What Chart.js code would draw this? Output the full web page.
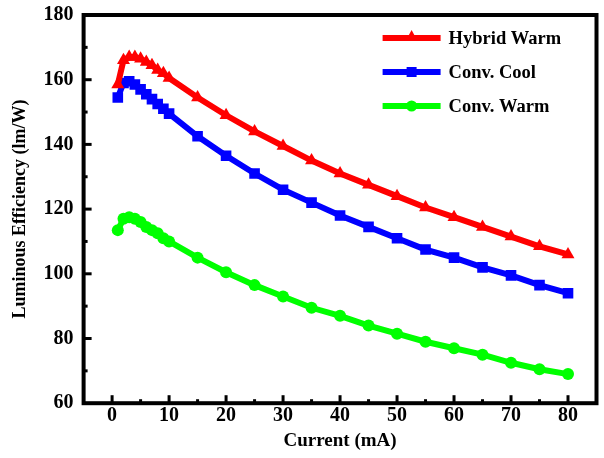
<!DOCTYPE html>
<html>
<head>
<meta charset="utf-8">
<script src="https://cdn.jsdelivr.net/npm/chart.js@4"></script>
<style>
  html, body { margin: 0; padding: 0; background: #fff; }
  #wrap { width: 604px; height: 458px; }
</style>
</head>
<body>
<div id="wrap"><canvas id="myChart" width="604" height="458"></canvas></div>
<script>
// currents (mA)
const current = [1, 2, 3, 4, 5, 6, 7, 8, 9, 10, 15, 20, 25, 30, 35, 40, 45, 50, 55, 60, 65, 70, 75, 80]
// luminous efficiency (lm/W)
const hybridWarm = [158.5, 166, 167, 167, 166.5, 165.5, 164.5, 163, 162, 160.5, 154.5, 149, 144, 139.5, 135, 131, 127.5, 124, 120.5, 117.5, 114.5, 111.5, 108.5, 106]
const convCool = [154.5, 159, 159.5, 158.5, 157, 155.5, 154, 152.5, 151, 149.5, 142.5, 136.5, 131, 126, 122, 118, 114.5, 111, 107.5, 105, 102, 99.5, 96.5, 94]
const convWarm = [113.5, 117, 117.5, 117, 116, 114.5, 113.5, 112.5, 111, 110, 105, 100.5, 96.5, 93, 89.5, 87, 84, 81.5, 79, 77, 75, 72.5, 70.5, 69]
const xTicks = [0, 10, 20, 30, 40, 50, 60, 70, 80]
const yTicks = [60, 80, 100, 120, 140, 160, 180]

const FONT = '"Liberation Serif", "Times New Roman", serif'

function toPoints(ys){
    return current.map((x, i) => ({ x, y: ys[i] }))
}

// frame, inward ticks and legend inside the plot
const framePlugin = {
    id: 'frame',
    afterDraw(chart){
        const { ctx, chartArea: a, scales } = chart
        ctx.save()
        ctx.strokeStyle = '#000'
        ctx.lineWidth = 4
        ctx.strokeRect(a.left, a.top, a.right - a.left, a.bottom - a.top)
        ctx.lineWidth = 3
        for(let v = 0; v <= 80; v += 5){
            const px = scales.x.getPixelForValue(v)
            const len = v % 10 === 0 ? 8 : 4
            ctx.beginPath()
            ctx.moveTo(px, a.bottom)
            ctx.lineTo(px, a.bottom - len)
            ctx.stroke()
        }
        for(let v = 70; v < 180; v += 10){
            const py = scales.y.getPixelForValue(v)
            const len = v % 20 === 0 ? 8 : 4
            ctx.beginPath()
            ctx.moveTo(a.left, py)
            ctx.lineTo(a.left + len, py)
            ctx.stroke()
        }
        // legend
        chart.data.datasets.forEach((ds, i) => {
            const y = a.top + 23 + i * 34
            const x0 = a.left + 299
            ctx.strokeStyle = ds.borderColor
            ctx.lineWidth = 6
            ctx.beginPath()
            ctx.moveTo(x0, y)
            ctx.lineTo(x0 + 58, y)
            ctx.stroke()
            ctx.fillStyle = ds.borderColor
            const cx = x0 + 29
            ctx.beginPath()
            if(ds.pointStyle === 'triangle'){
                ctx.moveTo(cx, y - 8); ctx.lineTo(cx + 6, y + 3); ctx.lineTo(cx - 6, y + 3); ctx.closePath()
            } else if(ds.pointStyle === 'rect'){
                ctx.rect(cx - 5, y - 5, 10, 10)
            } else {
                ctx.arc(cx, y, 5.5, 0, Math.PI * 2)
            }
            ctx.fill()
            ctx.fillStyle = '#000'
            ctx.font = 'bold 18.5px ' + FONT
            ctx.textBaseline = 'middle'
            ctx.fillText(ds.label, x0 + 66, y + 1)
        })
        ctx.restore()
    }
}

const ctx = document.getElementById('myChart')
new Chart(ctx, {
    type: 'line',
    data: {
        datasets: [{
            label: 'Hybrid Warm',
            data: toPoints(hybridWarm),
            borderColor: '#ff0000',
            backgroundColor: '#ff0000',
            borderWidth: 6,
            pointStyle: 'triangle',
            pointRadius: 7.5,
            pointBorderWidth: 0
        }, {
            label: 'Conv. Cool',
            data: toPoints(convCool),
            borderColor: '#0000ff',
            backgroundColor: '#0000ff',
            borderWidth: 6,
            pointStyle: 'rect',
            pointRadius: 7.5,
            pointBorderWidth: 0
        }, {
            label: 'Conv. Warm',
            data: toPoints(convWarm),
            borderColor: '#00ff00',
            backgroundColor: '#00ff00',
            borderWidth: 6,
            pointStyle: 'circle',
            pointRadius: 6,
            pointBorderWidth: 0
        }]
    },
    options: {
        responsive: false,
        animation: false,
        layout: { padding: { left: 10, right: 4, top: 15, bottom: 6 } },
        plugins: {
            legend: { display: false },
            tooltip: { enabled: false }
        },
        scales: {
            x: {
                type: 'linear',
                min: -5,
                max: 85,
                afterBuildTicks: s => { s.ticks = xTicks.map(v => ({ value: v })) },
                afterFit: s => { s.paddingRight = 0; s.paddingLeft = 0 },
                grid: { display: false, drawTicks: false },
                border: { display: false },
                ticks: { color: '#000', padding: 1, maxRotation: 0, font: { family: FONT, size: 20, weight: 'bold' } },
                title: { display: true, text: 'Current (mA)', color: '#000', padding: { top: 0, bottom: 0 }, font: { family: FONT, size: 19, weight: 'bold' } }
            },
            y: {
                min: 60,
                max: 180,
                afterBuildTicks: s => { s.ticks = yTicks.map(v => ({ value: v })) },
                afterFit: s => { s.paddingTop = 0; s.paddingBottom = 0 },
                grid: { display: false, drawTicks: false },
                border: { display: false },
                ticks: { color: '#000', padding: 10, font: { family: FONT, size: 20, weight: 'bold' } },
                title: { display: true, text: 'Luminous Efficiency (lm/W)', color: '#000', padding: { top: 0, bottom: 2 }, font: { family: FONT, size: 18, weight: 'bold' } }
            }
        }
    },
    plugins: [framePlugin]
})
</script>
</body>
</html>
